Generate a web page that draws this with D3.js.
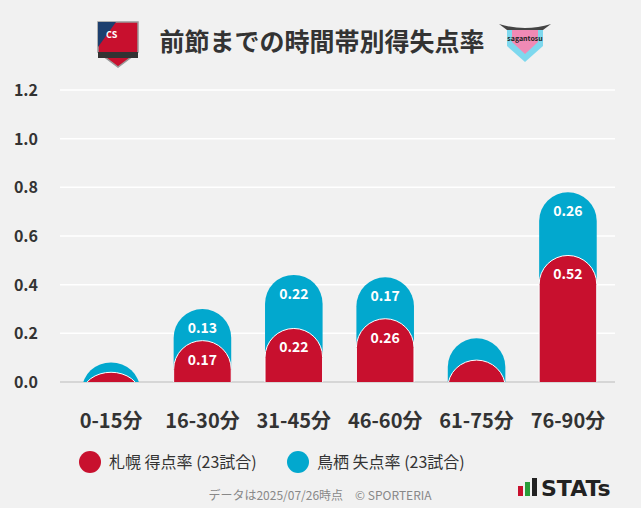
<!DOCTYPE html>
<html><head><meta charset="utf-8">
<script src="https://cdn.jsdelivr.net/npm/d3@7"></script>
<style>body{margin:0;background:#f1f1f1;font-family:"Noto Sans CJK JP","Noto Sans",sans-serif}</style>
</head><body><svg id="c" width="641" height="508"></svg>
<script>
const categories=["0-15分","16-30分","31-45分","46-60分","61-75分","76-90分"];
const scored=[0.04,0.17,0.22,0.26,0.09,0.52];
const conceded=[0.04,0.13,0.22,0.17,0.09,0.26];
const yTicks=[0,0.2,0.4,0.6,0.8,1.0,1.2];
const svg=d3.select("#c");
const FF='"Noto Sans CJK JP","Noto Sans",sans-serif';
svg.append("rect").attr("width",641).attr("height",508).attr("fill","#f1f1f1");
const x=d3.scaleBand().domain(categories).range([64,615]).paddingInner(0.37).paddingOuter(0.2);
const y=d3.scaleLinear().domain([0,1.2]).range([382,90]);
const g=svg.append("g");
yTicks.forEach(t=>{
 g.append("line").attr("x1",60).attr("x2",615).attr("y1",y(t)).attr("y2",y(t)).attr("stroke",t===0?"#d6d6d6":"#fff").attr("stroke-width",t===0?2:1.5);
 g.append("text").attr("x",38).attr("y",y(t)+6).attr("text-anchor","end").attr("font-size",16).attr("font-weight",700).attr("fill","#333").attr("font-family",FF).text(t.toFixed(1));
});
svg.append("defs").append("clipPath").attr("id","cl").append("rect").attr("x",0).attr("y",0).attr("width",641).attr("height",y(0));
const bw=x.bandwidth(), r=bw/2;
const bars=g.append("g").attr("clip-path","url(#cl)");
categories.forEach((c,i)=>{
 const tot=scored[i]+conceded[i];
 bars.append("rect").attr("x",x(c)).attr("y",y(tot)).attr("width",bw).attr("height",y(0)-y(tot)+r+5).attr("rx",r).attr("ry",r).attr("fill","#02a8ce");
 bars.append("rect").attr("x",x(c)).attr("y",y(scored[i])).attr("width",bw).attr("height",y(0)-y(scored[i])+r+5).attr("rx",r).attr("ry",r).attr("fill","#c8102e").attr("stroke","#fff").attr("stroke-width",1);
 if(scored[i]>0.1){
  g.append("text").attr("x",x(c)+bw/2).attr("y",y(scored[i])+24).attr("text-anchor","middle").attr("font-size",14).attr("font-weight",700).attr("fill","#fff").attr("font-family",FF).text(scored[i].toFixed(2));
  g.append("text").attr("x",x(c)+bw/2).attr("y",y(tot)+24).attr("text-anchor","middle").attr("font-size",14).attr("font-weight",700).attr("fill","#fff").attr("font-family",FF).text(conceded[i].toFixed(2));
 }
 g.append("text").attr("x",x(c)+bw/2).attr("y",428).attr("text-anchor","middle").attr("font-size",20).attr("font-weight",700).attr("fill","#333").attr("font-family",FF).text(c);
});
// title
svg.append("text").attr("x",322).attr("y",51).attr("text-anchor","middle").attr("font-size",25).attr("font-weight",700).attr("fill","#333").attr("font-family",FF).text("前節までの時間帯別得失点率");
// logos (simplified)
const l1=svg.append("g").attr("transform","translate(118,42)");
l1.append("path").attr("d","M-20,-20 L20,-20 L20,10 L0,25 L-20,10Z").attr("fill","#c8102e").attr("stroke","#999").attr("stroke-width",1.5);
l1.append("path").attr("d","M-20,-20 L-2,-20 L-20,5Z").attr("fill","#1d3f6e");
l1.append("text").attr("x",-12).attr("y",-4).attr("font-size",9).attr("fill","#fff").attr("font-weight",700).text("CS");
l1.append("rect").attr("x",-20).attr("y",10).attr("width",40).attr("height",6).attr("fill","#333");
const l2=svg.append("g").attr("transform","translate(525,42)");
l2.append("path").attr("d","M-18,-12 L18,-12 L18,4 L0,20 L-18,4Z").attr("fill","#7ed8ee");
l2.append("path").attr("d","M-13,-12 L13,-12 L13,0 L0,12 L-13,0Z").attr("fill","#f08ab5");
l2.append("path").attr("d","M-26,-18 Q0,-10 26,-18 L18,-12 L-18,-12Z").attr("fill","#444");
l2.append("text").attr("x",0).attr("y",-1).attr("text-anchor","middle").attr("font-size",7).attr("font-weight",700).attr("fill","#222").text("sagantosu");
// legend
[[90,"#c8102e","札幌 得点率 (23試合)"],[298,"#02a8ce","鳥栖 失点率 (23試合)"]].forEach(([lx,col,t])=>{
 svg.append("circle").attr("cx",lx).attr("cy",462).attr("r",11).attr("fill",col);
 svg.append("text").attr("x",lx+19).attr("y",468).attr("font-size",16).attr("fill","#333").attr("font-family",FF).text(t);
});
svg.append("text").attr("x",320).attr("y",500).attr("text-anchor","middle").attr("font-size",12).attr("fill","#888").attr("font-family",FF).text("データは2025/07/26時点　© SPORTERIA");
// STATS logo
const sl=svg.append("g").attr("transform","translate(518,478)");
sl.append("rect").attr("x",0).attr("y",8).attr("width",5).attr("height",10).attr("fill","#c8102e");
sl.append("rect").attr("x",7).attr("y",4).attr("width",5).attr("height",14).attr("fill","#2a9d3a");
sl.append("rect").attr("x",14).attr("y",0).attr("width",5).attr("height",18).attr("fill","#222");
sl.append("text").attr("x",23).attr("y",18).attr("font-size",22).attr("font-weight",900).attr("fill","#222").attr("font-family","DejaVu Sans").text("STATs");
</script></body></html>
